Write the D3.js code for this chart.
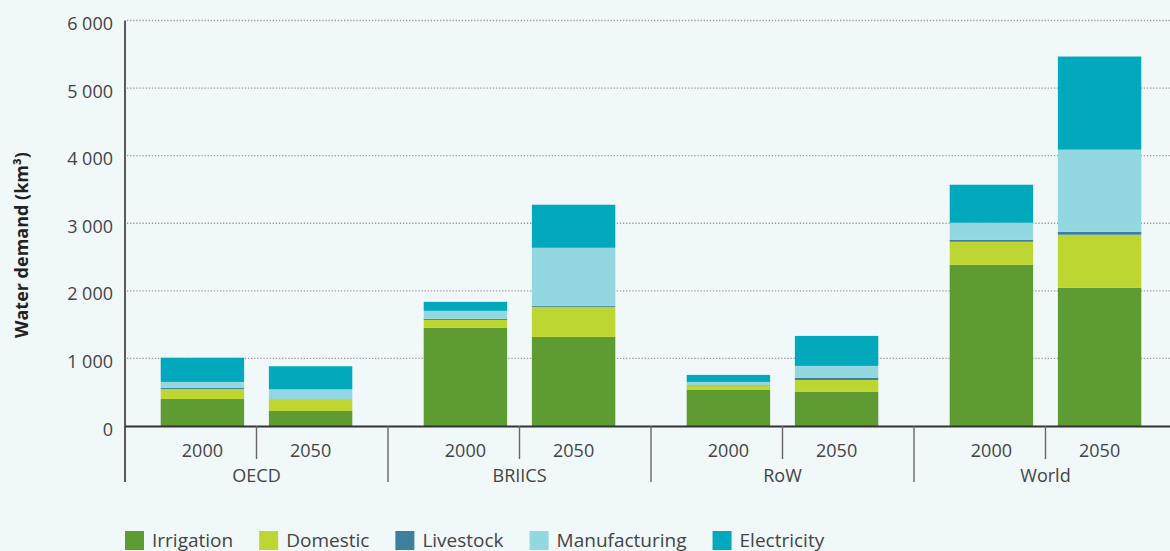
<!DOCTYPE html>
<html>
<head>
<meta charset="utf-8">
<script src="https://cdn.jsdelivr.net/npm/d3@7"></script>
<style>
  html, body { margin: 0; padding: 0; background: #f0f8fa; }
  svg { display: block; font-family: "Open Sans", "Noto Sans", sans-serif; }
  .lbl { fill: #444; font-size: 18px; }
</style>
</head>
<body>
<svg id="chart" width="1170" height="551"></svg>
<script>
// regions and years along the x axis
var groups = ["OECD", "BRIICS", "RoW", "World"];
var years = ["2000", "2050"];
var sectors = ["Irrigation", "Domestic", "Livestock", "Manufacturing", "Electricity"];
var colours = ["#5e9b32", "#bdd631", "#3e7f9e", "#93d7e0", "#02a9bd"];
var yTicks = [0, 1000, 2000, 3000, 4000, 5000, 6000];

// km3, order: OECD 2000, OECD 2050, BRIICS 2000, BRIICS 2050, RoW 2000, RoW 2050, World 2000, World 2050
var irrigation    = [400, 222, 1452, 1319, 533, 504, 2385, 2044];
var domestic      = [148, 170, 118, 444, 67, 177, 341, 786];
var livestock     = [15, 4, 15, 15, 5, 30, 30, 44];
var manufacturing = [89, 146, 119, 859, 47, 178, 251, 1215];
var electricity   = [358, 342, 133, 637, 104, 444, 563, 1378];

var rows = [];
groups.forEach(function(g, gi) {
  years.forEach(function(y, yi) {
    var i = gi * 2 + yi;
    rows.push({group: g, year: y, Irrigation: irrigation[i], Domestic: domestic[i],
      Livestock: livestock[i], Manufacturing: manufacturing[i], Electricity: electricity[i]});
  });
});

var svg = d3.select("#chart");
var left = 125, right = 1177, topY = 20.5, base = 426;

var x0 = d3.scaleBand().domain(groups).range([left, right]);
var x1 = d3.scaleBand().domain(years).range([0, x0.bandwidth()])
  .paddingInner(0.229).paddingOuter(0.33);
var y = d3.scaleLinear().domain([0, 6000]).range([base, topY]);
var colour = d3.scaleOrdinal().domain(sectors).range(colours);

var fmt = d3.formatLocale({decimal: ".", thousands: "\u2009", grouping: [3], currency: ["", ""]}).format(",");
function label(d) { return fmt(d).replace("\u2009", " "); }

// dotted gridlines
svg.append("g").selectAll("line")
  .data(yTicks.filter(function(d) { return d > 0; }))
  .enter().append("line")
  .attr("x1", left + 2).attr("x2", 1170)
  .attr("y1", function(d) { return y(d); }).attr("y2", function(d) { return y(d); })
  .attr("stroke", "#9a9a9a").attr("stroke-width", 1.3)
  .attr("stroke-dasharray", "1.3 1.8");

// y axis labels
var yAxis = svg.append("g")
  .attr("transform", "translate(" + left + ",0)")
  .call(d3.axisLeft(y).tickValues(yTicks).tickSize(0).tickPadding(12).tickFormat(label));
yAxis.select(".domain").remove();
yAxis.attr("font-family", null).attr("font-size", null);
yAxis.selectAll("text").attr("class", "lbl").attr("dy", "0.5em").attr("fill", null);

svg.append("text")
  .attr("transform", "translate(28," + 245 + ") rotate(-90)")
  .attr("text-anchor", "middle")
  .style("font-size", "18px").style("font-weight", "bold").attr("fill", "#222")
  .text("Water demand (km\u00b3)");

// stacked bars
var series = d3.stack().keys(sectors)(rows);
svg.append("g").selectAll("g")
  .data(series)
  .enter().append("g")
  .attr("fill", function(d) { return colour(d.key); })
  .selectAll("rect")
  .data(function(d) { return d; })
  .enter().append("rect")
  .attr("x", function(d) { return x0(d.data.group) + x1(d.data.year); })
  .attr("width", x1.bandwidth())
  .attr("y", function(d) { return y(d[1]); })
  .attr("height", function(d) { return y(d[0]) - y(d[1]); });

// axes lines
svg.append("line").attr("x1", left).attr("x2", left).attr("y1", topY).attr("y2", 482)
  .attr("stroke", "#333").attr("stroke-width", 1.6);
svg.append("line").attr("x1", left).attr("x2", 1170).attr("y1", base + 0.5).attr("y2", base + 0.5)
  .attr("stroke", "#333").attr("stroke-width", 2.2);

var sep = svg.append("g").attr("stroke", "#666").attr("stroke-width", 1.4);
groups.slice(1).forEach(function(g) {
  sep.append("line").attr("x1", x0(g)).attr("x2", x0(g)).attr("y1", base).attr("y2", 482);
});
groups.forEach(function(g) {
  var mx = x0(g) + x0.bandwidth() / 2;
  sep.append("line").attr("x1", mx).attr("x2", mx).attr("y1", base).attr("y2", 459);
});

// year and region labels
svg.append("g").selectAll("text")
  .data(rows)
  .enter().append("text")
  .attr("class", "lbl").attr("text-anchor", "middle")
  .attr("x", function(d) { return x0(d.group) + x1(d.year) + x1.bandwidth() / 2; })
  .attr("y", 457)
  .text(function(d) { return d.year; });
svg.append("g").selectAll("text")
  .data(groups)
  .enter().append("text")
  .attr("class", "lbl").attr("text-anchor", "middle")
  .attr("x", function(d) { return x0(d) + x0.bandwidth() / 2; })
  .attr("y", 482)
  .text(function(d) { return d; });

// legend
var lx = left;
sectors.forEach(function(s) {
  var item = svg.append("g").attr("transform", "translate(" + lx + ",531)");
  item.append("rect").attr("width", 19).attr("height", 19).attr("fill", colour(s));
  var t = item.append("text").attr("class", "lbl").style("font-size", "19px")
    .attr("x", 27).attr("y", 15.5).text(s);
  lx += 27 + t.node().getComputedTextLength() + 26;
});
</script>
</body>
</html>
